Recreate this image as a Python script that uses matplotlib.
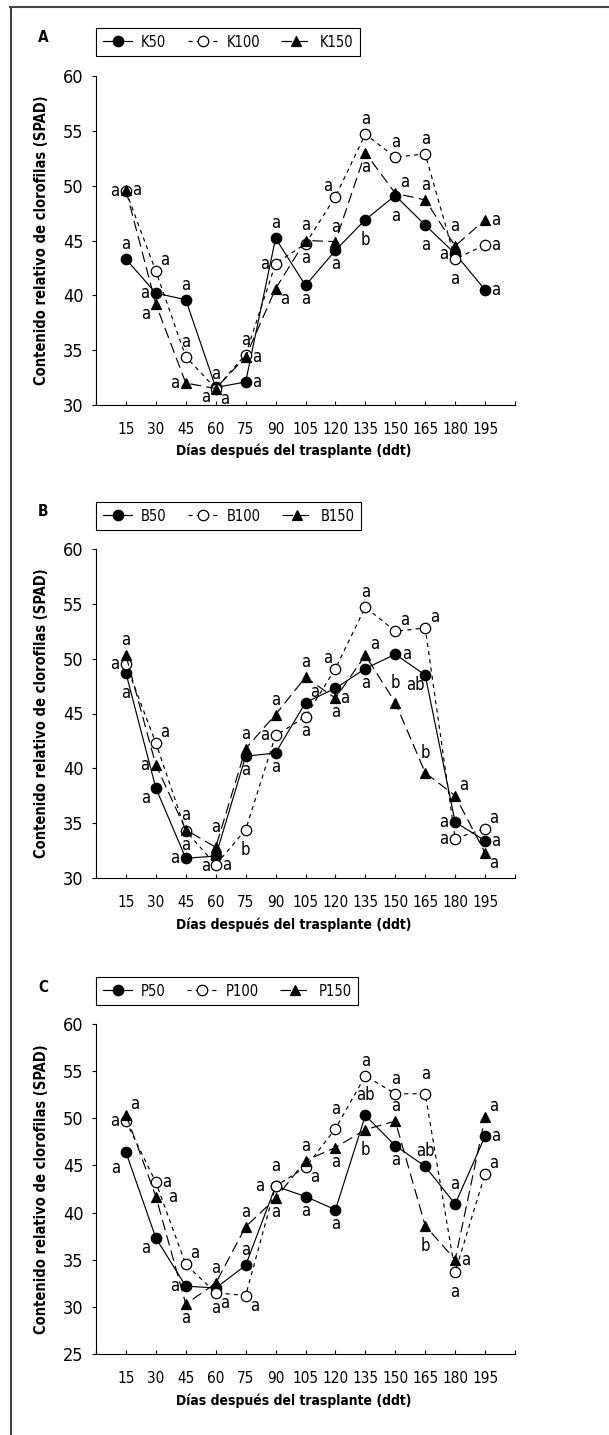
import numpy as np
import matplotlib
matplotlib.use("Agg")
import matplotlib.pyplot as plt
from matplotlib.lines import Line2D

plt.rcParams['font.family'] = ['DejaVu Sans']
plt.rcParams['font.stretch'] = 'condensed'

days = [15, 30, 45, 60, 75, 90, 105, 120, 135, 150, 165, 180, 195]

# panel A - potassium
K50 = [43.3, 40.2, 39.6, 31.6, 32.1, 45.2, 40.9, 44.1, 46.9, 49.1, 46.4, 43.8, 40.5]
K100 = [49.5, 42.2, 34.4, 31.5, 34.6, 42.9, 44.7, 49.0, 54.7, 52.6, 52.9, 43.3, 44.6]
K150 = [49.6, 39.2, 32.0, 31.5, 34.4, 40.6, 45.0, 44.9, 53.0, 49.3, 48.7, 44.5, 46.9]
K50_sig = ['a', 'a', 'a', 'a', 'a', 'a', 'a', 'a', 'b', 'a', 'a', 'a', 'a']
K100_sig = ['a'] * 13
K150_sig = ['a'] * 13

# panel B - boron
B50 = [48.7, 38.2, 31.8, 32.0, 41.1, 41.4, 46.0, 47.3, 49.1, 50.4, 48.5, 35.1, 33.4]
B100 = [49.5, 42.3, 34.3, 31.2, 34.4, 43.0, 44.7, 49.1, 54.7, 52.5, 52.8, 33.6, 34.5]
B150 = [50.3, 40.3, 34.4, 32.8, 41.8, 44.9, 48.3, 46.4, 50.3, 46.0, 39.6, 37.5, 32.3]
B50_sig = ['a', 'a', 'a', 'a', 'a', 'a', 'a', 'a', 'a', 'a', 'ab', 'a', 'a']
B100_sig = ['a', 'a', 'a', 'a', 'b', 'a', 'a', 'a', 'a', 'a', 'a', 'a', 'a']
B150_sig = ['a', 'a', 'a', 'a', 'a', 'a', 'a', 'a', 'a', 'b', 'b', 'a', 'a']

# panel C - phosphorus
P50 = [46.4, 37.3, 32.2, 32.0, 34.4, 42.8, 41.7, 40.3, 50.3, 47.1, 44.9, 40.9, 48.1]
P100 = [49.7, 43.2, 34.5, 31.5, 31.2, 42.8, 44.8, 48.9, 54.5, 52.6, 52.6, 33.7, 44.1]
P150 = [50.4, 41.7, 30.3, 32.5, 38.5, 41.5, 45.5, 46.9, 48.8, 49.7, 38.6, 35.0, 50.1]
P50_sig = ['a', 'a', 'a', 'a', 'a', 'a', 'a', 'a', 'ab', 'a', 'ab', 'a', 'a']
P100_sig = ['a'] * 13
P150_sig = ['a', 'a', 'a', 'a', 'a', 'a', 'a', 'a', 'b', 'a', 'b', 'a', 'a']

# where each letter sits relative to its point (layout only)
OFFS = {'u': (0, 15), 'U': (0, 20), 'd': (0, -14), 'D': (0, -20),
        'l': (-11, 0), 'L': (-16, 0), 'r': (11, 0), 'R': (17, 0),
        'ur': (9, 11), 'ul': (-8, 11), 'dr': (9, -10), 'dl': (-10, -10),
        'DL': (-10, -16)}
A_pos = [['u', 'l', 'u', 'dl', 'r', 'u', 'd', 'd', 'D', 'D', 'D', 'l', 'r'],
         ['l', 'ur', 'u', 'dr', 'u', 'l', 'd', 'ul', 'u', 'u', 'u', 'D', 'r'],
         ['r', 'dl', 'l', 'u', 'r', 'dr', 'u', 'u', 'd', 'ur', 'u', 'U', 'r']]
B_pos = [['D', 'dl', 'l', 'dl', 'd', 'd', 'ur', 'dr', 'd', 'r', 'dl', 'l', 'r'],
         ['l', 'ur', 'd', 'r', 'D', 'l', 'd', 'ul', 'u', 'ur', 'ur', 'l', 'ur'],
         ['u', 'l', 'u', 'U', 'u', 'u', 'u', 'd', 'ur', 'U', 'U', 'ur', 'dr']]
C_pos = [['DL', 'dl', 'l', 'D', 'u', 'U', 'd', 'd', 'U', 'd', 'u', 'U', 'r'],
         ['l', 'r', 'ur', 'dr', 'dr', 'L', 'dr', 'U', 'u', 'u', 'U', 'D', 'ur'],
         ['ur', 'R', 'd', 'u', 'u', 'd', 'u', 'd', 'D', 'u', 'D', 'r', 'ur']]

W, H = 609, 1435
fig = plt.figure(figsize=(W / 100, H / 100), dpi=100)

styles = [dict(ls='-', marker='o', mfc='black'),
          dict(ls=(0, (3.5, 3.5)), marker='o', mfc='white'),
          dict(ls=(0, (9, 4.5)), marker='^', mfc='black')]


def panel(top, bottom, ymin, letter, names, series, sigs, pos, leg_top):
    ax = fig.add_axes([96 / W, 1 - bottom / H, 419 / W, (bottom - top) / H])
    x = np.arange(1, len(days) + 1)
    handles = []
    for name, y, st in zip(names, series, styles):
        h, = ax.plot(x, y, color='black', lw=0.85, ls=st['ls'], marker=st['marker'],
                     ms=7.5, mfc=st['mfc'], mec='black', mew=0.9, label=name,
                     clip_on=False)
        handles.append(h)
    for y, sg, ps in zip(series, sigs, pos):
        for xi, yi, s, p in zip(x, y, sg, ps):
            ax.annotate(s, (xi, yi), xytext=OFFS[p], textcoords='offset pixels',
                        ha='center', va='center', fontsize=12)
    ax.set_xlim(0, 14)
    ax.set_ylim(ymin, 60)
    ax.set_yticks(np.arange(ymin, 61, 5))
    ax.set_xticks(np.arange(0, 15))
    ax.set_xticklabels([''] + [str(d) for d in days] + [''])
    ax.spines['top'].set_visible(False)
    ax.spines['right'].set_visible(False)
    ax.spines['left'].set_linewidth(0.8)
    ax.spines['bottom'].set_linewidth(0.8)
    ax.tick_params(axis='x', direction='in', length=3, width=0.8, pad=12, labelsize=11)
    ax.tick_params(axis='y', direction='out', length=3, width=0.8, pad=6, labelsize=13)
    ax.set_ylabel('Contenido relativo de clorofilas (SPAD)', fontsize=10.5,
                  fontweight='bold')
    ax.yaxis.set_label_coords(-0.112, 0.5)
    ax.set_xlabel('Días después del trasplante (ddt)', fontsize=10, fontweight='bold')
    ax.xaxis.set_label_coords(0.4725, -39 / (bottom - top))
    leg = ax.legend(handles=handles, loc='upper left', ncol=3,
                    bbox_to_anchor=(96 / W, 1 - leg_top / H),
                    bbox_transform=fig.transFigure, borderaxespad=0,
                    fontsize=10.5, handlelength=2.05, handletextpad=0.6,
                    columnspacing=1.45, borderpad=0.45, fancybox=False,
                    edgecolor='black', framealpha=1)
    leg.get_frame().set_linewidth(0.8)
    fig.text(43 / W, 1 - (leg_top + 10) / H, letter, fontsize=11,
             fontweight='bold', ha='center', va='center')
    return ax


panel(76, 405, 30, 'A', ['K50', 'K100', 'K150'], [K50, K100, K150],
      [K50_sig, K100_sig, K150_sig], A_pos, 28)
panel(549, 878, 30, 'B', ['B50', 'B100', 'B150'], [B50, B100, B150],
      [B50_sig, B100_sig, B150_sig], B_pos, 502)
panel(1024, 1354, 25, 'C', ['P50', 'P100', 'P150'], [P50, P100, P150],
      [P50_sig, P100_sig, P150_sig], C_pos, 977)

# outer frame (top and left edges only)
fig.add_artist(Line2D([10 / W, 1], [1 - 7 / H, 1 - 7 / H], color='#444444', lw=1.5))
fig.add_artist(Line2D([11 / W, 11 / W], [0, 1 - 7 / H], color='#444444', lw=1.5))

fig.savefig('out.png', dpi=100)
